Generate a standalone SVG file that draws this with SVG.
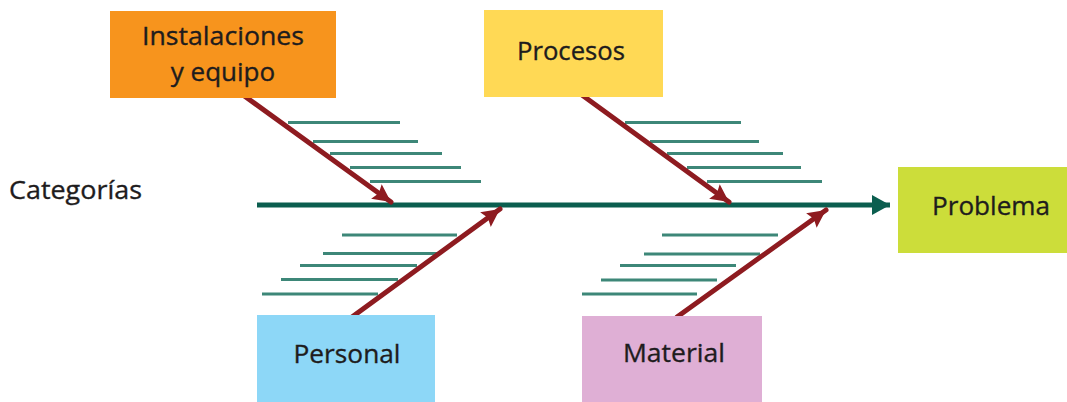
<svg xmlns="http://www.w3.org/2000/svg" width="1067" height="402" viewBox="0 0 1067 402">
  <style>
    .box-text { font-family: "Open Sans", "Noto Sans", "Liberation Sans", sans-serif; font-size: 26px; fill: #1E1C1D; stroke: #1E1C1D; stroke-width: 0.35; }
    .rib { stroke: #3D8778; stroke-width: 3; fill: none; }
    .spine { stroke: #0B5E4F; stroke-width: 5; fill: none; }
    .cause { stroke: #8E1B20; stroke-width: 5; fill: none; stroke-linecap: round; }
  </style>
  <defs>
    <marker id="redHead" markerUnits="userSpaceOnUse" markerWidth="22" markerHeight="22" viewBox="0 0 22 22" refX="20" refY="11" orient="auto">
      <path d="M2,2 L20,11 L2,20 L5,11 Z" fill="#8E1B20"/>
    </marker>
    <marker id="spineHead" markerUnits="userSpaceOnUse" markerWidth="20" markerHeight="22" viewBox="0 0 20 22" refX="18" refY="11" orient="auto">
      <path d="M0,1 L18,11 L0,21 Z" fill="#0B5E4F"/>
    </marker>
  </defs>

  <rect width="1067" height="402" fill="#FFFFFF"/>

  <!-- side label -->
  <text class="box-text" x="9" y="199" font-size="23" textLength="133" lengthAdjust="spacingAndGlyphs">Categorías</text>

  <!-- ribs and arrows -->
  <g id="connectors">
    <!-- upper left ribs -->
    <line class="rib" x1="288" y1="122.5" x2="400" y2="122.5"/>
    <line class="rib" x1="313" y1="141.5" x2="418" y2="141.5"/>
    <line class="rib" x1="330" y1="153.5" x2="442" y2="153.5"/>
    <line class="rib" x1="350" y1="167.5" x2="461" y2="167.5"/>
    <line class="rib" x1="370" y1="181.5" x2="481" y2="181.5"/>
    <!-- upper right ribs -->
    <line class="rib" x1="625" y1="122.5" x2="741" y2="122.5"/>
    <line class="rib" x1="650" y1="141.5" x2="759" y2="141.5"/>
    <line class="rib" x1="667" y1="153.5" x2="783" y2="153.5"/>
    <line class="rib" x1="687" y1="167.5" x2="801" y2="167.5"/>
    <line class="rib" x1="707" y1="181.5" x2="822" y2="181.5"/>
    <!-- lower left ribs -->
    <line class="rib" x1="342" y1="235" x2="457" y2="235"/>
    <line class="rib" x1="323" y1="253.5" x2="437" y2="253.5"/>
    <line class="rib" x1="300" y1="265.5" x2="417" y2="265.5"/>
    <line class="rib" x1="281" y1="279.5" x2="398" y2="279.5"/>
    <line class="rib" x1="262" y1="294" x2="378" y2="294"/>
    <!-- lower right ribs -->
    <line class="rib" x1="662" y1="235" x2="778" y2="235"/>
    <line class="rib" x1="644" y1="254" x2="760" y2="254"/>
    <line class="rib" x1="620" y1="265.5" x2="736" y2="265.5"/>
    <line class="rib" x1="601" y1="280" x2="717" y2="280"/>
    <line class="rib" x1="582" y1="294" x2="697" y2="294"/>

    <!-- main spine -->
    <line class="spine" x1="257" y1="205" x2="890" y2="205" marker-end="url(#spineHead)"/>

    <!-- cause arrows -->
    <line class="cause" x1="243" y1="95" x2="391" y2="202" marker-end="url(#redHead)"/>
    <line class="cause" x1="582" y1="95" x2="729" y2="202" marker-end="url(#redHead)"/>
    <line class="cause" x1="352" y1="317" x2="500" y2="209" marker-end="url(#redHead)"/>
    <line class="cause" x1="677" y1="317" x2="826" y2="210" marker-end="url(#redHead)"/>
  </g>

  <g id="instalaciones">
    <rect x="110" y="11" width="226" height="87" fill="#F7941D"/>
    <text class="box-text" x="223" y="45" text-anchor="middle" textLength="162" lengthAdjust="spacingAndGlyphs">Instalaciones</text>
    <text class="box-text" x="223" y="81" text-anchor="middle">y equipo</text>
  </g>

  <g id="procesos">
    <rect x="484" y="10" width="179" height="87" fill="#FFD955"/>
    <text class="box-text" x="571" y="60" text-anchor="middle" textLength="108" lengthAdjust="spacingAndGlyphs">Procesos</text>
  </g>

  <g id="problema">
    <rect x="898" y="167" width="169" height="86" fill="#CCDD3A"/>
    <text class="box-text" x="991" y="215" text-anchor="middle" textLength="118" lengthAdjust="spacingAndGlyphs">Problema</text>
  </g>

  <g id="personal">
    <rect x="257" y="315" width="178" height="87" fill="#8DD7F7"/>
    <text class="box-text" x="347" y="363" text-anchor="middle" textLength="107" lengthAdjust="spacingAndGlyphs">Personal</text>
  </g>

  <g id="material">
    <rect x="582" y="316" width="180" height="86" fill="#DFAFD5"/>
    <text class="box-text" x="674" y="362" text-anchor="middle" textLength="102" lengthAdjust="spacingAndGlyphs">Material</text>
  </g>
</svg>
